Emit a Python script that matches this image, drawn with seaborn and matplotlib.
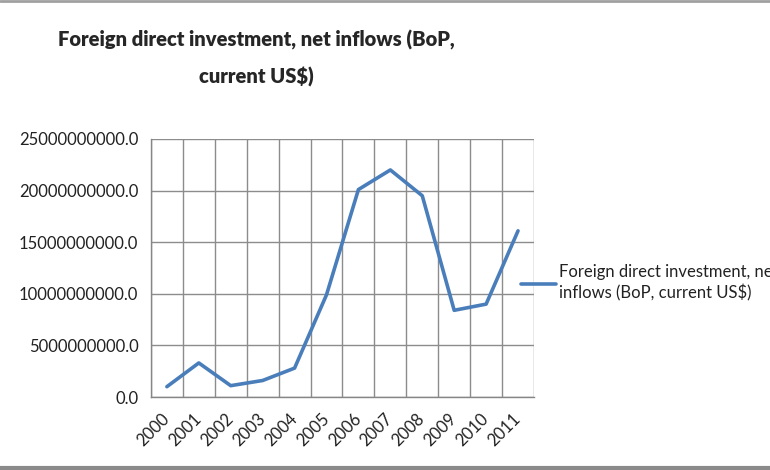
import matplotlib
matplotlib.use("Agg")
import matplotlib.pyplot as plt
import seaborn as sns
import pandas as pd
import numpy as np
from matplotlib.lines import Line2D
from matplotlib.ticker import FixedLocator, FuncFormatter

years = ["2000", "2001", "2002", "2003", "2004", "2005",
         "2006", "2007", "2008", "2009", "2010", "2011"]
fdi_values = [1.0e9, 3.3e9, 1.1e9, 1.6e9, 2.8e9, 9.9e9,
              20.1e9, 22.0e9, 19.5e9, 8.4e9, 9.0e9, 16.1e9]
y_ticks = [0, 5e9, 10e9, 15e9, 20e9, 25e9]
series_name = "Foreign direct investment, net\ninflows (BoP, current US$)"
title_text = "Foreign direct investment, net inflows (BoP,\ncurrent US$)"

sns.set_style("white")
plt.rcParams["font.family"] = ["Lato", "DejaVu Sans"]

df = pd.DataFrame({"Year": years, "Value": fdi_values})

fig = plt.figure(figsize=(7.7, 4.7), dpi=100)
ax = fig.add_axes([0.196, 0.1553, 0.4975, 0.549])

line_color = "#4a7ebb"
sns.lineplot(data=df, x="Year", y="Value", ax=ax, color=line_color,
             linewidth=2.6, label=series_name, sort=False)

ax.set_xlim(-0.5, len(years) - 0.5)
ax.set_ylim(0, 25e9)
ax.set_yticks(y_ticks)
ax.yaxis.set_major_formatter(FuncFormatter(lambda v, p: f"{v:.1f}"))
ax.set_xticks(range(len(years)))
ax.set_xticklabels(years, rotation=45, ha="right", va="center",
                   rotation_mode="anchor", fontsize=12)
ax.xaxis.set_minor_locator(FixedLocator(np.arange(-0.5, len(years), 1.0)))
ax.tick_params(axis="x", which="major", length=0, pad=14)
ax.tick_params(axis="x", which="minor", length=5, width=1, color="#868686", direction="out")
ax.tick_params(axis="y", which="major", length=5, width=1, color="#868686",
               direction="out", labelsize=12, pad=4, labelcolor="#222222")
ax.tick_params(axis="x", labelcolor="#222222")

ax.grid(False)
ax.yaxis.grid(True, which="major", color="#8c8c8c", linewidth=1)
ax.xaxis.grid(True, which="minor", color="#8c8c8c", linewidth=1)
ax.set_axisbelow(True)
for s in ["top", "right"]:
    ax.spines[s].set_visible(False)
for s in ["left", "bottom"]:
    ax.spines[s].set_color("#868686")
    ax.spines[s].set_linewidth(1)
ax.set_xlabel("")
ax.set_ylabel("")

leg = ax.legend(loc="center left", bbox_to_anchor=(0.668, 0.398),
                bbox_transform=fig.transFigure, frameon=False,
                fontsize=12, handlelength=2.1, handletextpad=0.2,
                borderaxespad=0)
for t in leg.get_texts():
    t.set_color("#222222")
    t.set_linespacing(1.3)

fig.text(0.333, 0.876, title_text, ha="center", va="center",
         fontsize=14.5, fontweight="heavy", linespacing=2.0)

fig.add_artist(Line2D([0, 1], [0.998, 0.998], transform=fig.transFigure,
                      color="#a0a0a0", linewidth=2))
fig.add_artist(Line2D([0, 1], [0.004, 0.004], transform=fig.transFigure,
                      color="#8a8a8a", linewidth=3))

fig.savefig("out.png", dpi=100)
